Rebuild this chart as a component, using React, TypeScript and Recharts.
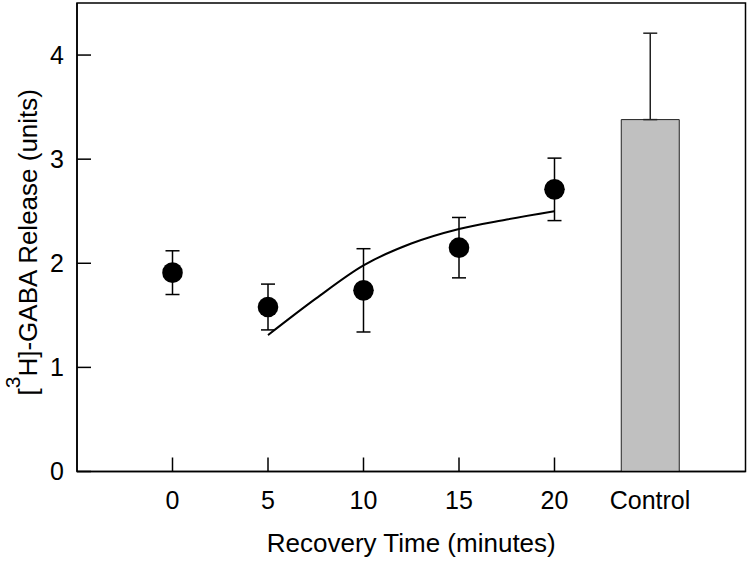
import React from "react";
import {
  ComposedChart,
  XAxis,
  YAxis,
  Scatter,
  Line,
  Bar,
  ErrorBar,
  ReferenceArea,
  Label,
} from "recharts";

// ---- data ----
const pointTimes = [0, 5, 10, 15, 20];
const pointMeans = [1.91, 1.58, 1.74, 2.15, 2.71];
const pointErrors = [0.21, 0.22, 0.4, 0.29, 0.3];

const fitTimes = [5, 7.5, 10, 12.5, 15, 17.5, 20];
const fitValues = [1.31, 1.66, 1.98, 2.19, 2.33, 2.42, 2.5];

const controlPosition = 25;
const controlLabel = "Control";
const controlMean = 3.38;
const controlError = 0.83;

const xTicks = [0, 5, 10, 15, 20, 25];
const yTicks = [0, 1, 2, 3, 4];
const xDomain = [-5, 30];
const yDomain = [0, 4.5];

const xTitle = "Recovery Time (minutes)";

// ---- tables built from the arrays ----
const pointData = pointTimes.map((t, i) => ({
  x: t,
  y: pointMeans[i],
  err: pointErrors[i],
}));
const fitData = fitTimes.map((t, i) => ({ x: t, y: fitValues[i] }));
const chartData = [
  ...pointTimes.map((t) => ({ x: t, control: null as number | null, cerr: null as any })),
  { x: controlPosition, control: controlMean, cerr: [0, controlError] },
];

const FONT = "'Liberation Sans', Arial, Helvetica, sans-serif";
const TICK_MARGIN = 19.5;
const TICK_LEN = 14;

const XTick = (props: any) => {
  const { x, y, payload } = props;
  const v = payload.value;
  const axisY = y - TICK_MARGIN;
  return (
    <g>
      {v !== controlPosition && (
        <line x1={x} x2={x} y1={axisY} y2={axisY - TICK_LEN} stroke="#000" strokeWidth={1.5} />
      )}
      <text
        x={x}
        y={y}
        dy="0.71em"
        textAnchor="middle"
        fontSize={25}
        fontFamily={FONT}
        fill="#000"
      >
        {v === controlPosition ? controlLabel : String(v)}
      </text>
    </g>
  );
};

const YTitle = (props: any) => {
  const vb = props.viewBox || { x: 0, y: 0, width: 0, height: 0 };
  const cx = vb.x + 37;
  const cy = vb.y + vb.height / 2 + 5;
  return (
    <text
      transform={`translate(${cx},${cy}) rotate(-90)`}
      textAnchor="middle"
      fontSize={26}
      fontFamily={FONT}
      fill="#000"
    >
      <tspan>[</tspan>
      <tspan dy={-17} fontSize={21}>
        3
      </tspan>
      <tspan dy={17}>H]-GABA Release (units)</tspan>
    </text>
  );
};

const XTitle = (props: any) => {
  const vb = props.viewBox || { x: 0, y: 0, width: 0, height: 0 };
  return (
    <text
      x={vb.x + vb.width / 2}
      y={vb.y + 80.5}
      textAnchor="middle"
      fontSize={26}
      fontFamily={FONT}
      fill="#000"
    >
      {xTitle}
    </text>
  );
};

const Dot = (props: any) => {
  const { cx, cy } = props;
  if (cx == null || cy == null || isNaN(cx) || isNaN(cy)) return null;
  return <circle cx={cx} cy={cy} r={10.3} fill="#000" />;
};

export default function App() {
  return (
    <div style={{ position: "absolute", left: 0, top: 0, width: 750, height: 562, background: "#fff" }}>
      <ComposedChart
        width={750}
        height={562}
        data={chartData}
        margin={{ top: 3, right: 4.5, left: 0, bottom: 0 }}
      >
        <XAxis
          dataKey="x"
          type="number"
          domain={xDomain}
          ticks={xTicks}
          allowDataOverflow
          height={90.5}
          axisLine={{ stroke: "#000", strokeWidth: 1.5 }}
          tickLine={false}
          tickSize={0}
          tickMargin={TICK_MARGIN}
          tick={<XTick />}
          interval={0}
        >
          <Label content={<XTitle />} />
        </XAxis>
        <XAxis xAxisId="fit" dataKey="x" type="number" domain={xDomain} allowDataOverflow hide />
        <YAxis
          dataKey="y"
          type="number"
          domain={yDomain}
          ticks={yTicks}
          allowDataOverflow
          width={77}
          axisLine={{ stroke: "#000", strokeWidth: 1.5 }}
          tickLine={{ stroke: "#000", strokeWidth: 1.5 }}
          tickSize={-14}
          tickMargin={27}
          tick={{ fontSize: 25, fontFamily: FONT, fill: "#000" }}
          interval={0}
        >
          <Label content={<YTitle />} />
        </YAxis>
        <ReferenceArea
          x1={xDomain[0]}
          x2={xDomain[1]}
          y1={yDomain[0]}
          y2={yDomain[1]}
          fill="none"
          stroke="#000"
          strokeWidth={1.5}
          ifOverflow="visible"
        />
        <Bar
          dataKey="control"
          barSize={58}
          fill="#c0c0c0"
          stroke="#222"
          strokeWidth={1}
          isAnimationActive={false}
        >
          <ErrorBar dataKey="cerr" direction="y" width={7} stroke="#222" strokeWidth={1.5} />
        </Bar>
        <Line
          xAxisId="fit"
          data={fitData}
          dataKey="y"
          type="monotone"
          stroke="#000"
          strokeWidth={2}
          dot={false}
          activeDot={false}
          isAnimationActive={false}
        />
        <Scatter
          data={pointData}
          dataKey="y"
          fill="#000"
          shape={<Dot />}
          isAnimationActive={false}
        >
          <ErrorBar dataKey="err" direction="y" width={7} stroke="#000" strokeWidth={1.5} />
        </Scatter>
      </ComposedChart>
    </div>
  );
}
